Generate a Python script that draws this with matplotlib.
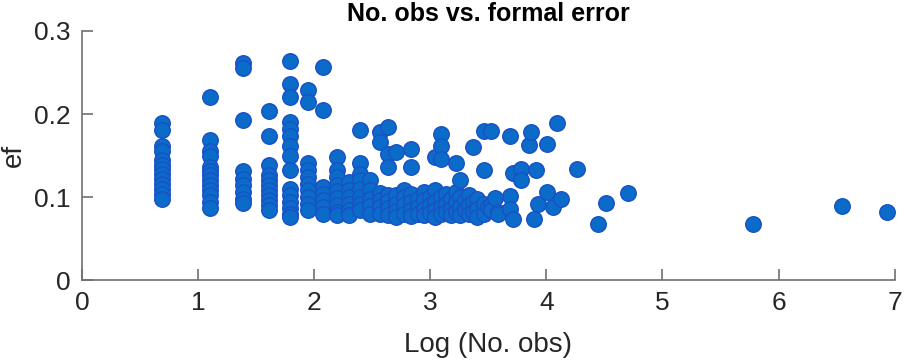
import numpy as np
import matplotlib
matplotlib.use("Agg")
import matplotlib.pyplot as plt

plt.rcParams['font.family'] = ['Liberation Sans', 'DejaVu Sans']

# number of observations per station/session and its formal error
n_obs = (
    [2] * 13 + [3] * 13 + [4] * 9 + [5] * 11 + [6] * 15 + [7] * 10 + [8] * 7
    + [9] * 9 + [10] * 6 + [11] * 8 + [12] * 5 + [13] * 6 + [14] * 7 + [15] * 5
    + [16] * 4 + [17] * 6 + [18] * 3 + [19] * 4 + [20] * 3 + [21] * 5 + [22] * 6
    + [23] * 3 + [24] * 3 + [25] * 4 + [26] * 4 + [27] * 2 + [28] * 3 + [29] * 3
    + [30] * 3 + [32] * 4 + [33] * 1 + [34] * 3 + [35] * 1 + [36] * 2 + [40] * 3
    + [41] * 2 + [44] * 2 + [47, 48, 49, 50, 51] + [55] * 2
    + [58, 60, 62, 71, 85, 91, 110, 323, 698, 1024]
)
ef = [
    0.189, 0.181, 0.162, 0.156, 0.145, 0.138, 0.134, 0.128, 0.122, 0.116, 0.110, 0.104, 0.098,
    0.220, 0.169, 0.156, 0.149, 0.136, 0.131, 0.126, 0.120, 0.114, 0.108, 0.102, 0.094, 0.087,
    0.262, 0.255, 0.193, 0.131, 0.122, 0.114, 0.106, 0.098, 0.093,
    0.204, 0.173, 0.138, 0.126, 0.120, 0.114, 0.108, 0.102, 0.096, 0.090, 0.084,
    0.264, 0.236, 0.221, 0.190, 0.182, 0.174, 0.162, 0.150, 0.132, 0.110, 0.102, 0.094, 0.087, 0.080, 0.076,
    0.229, 0.214, 0.141, 0.132, 0.124, 0.116, 0.108, 0.100, 0.092, 0.084,
    0.257, 0.205, 0.112, 0.104, 0.096, 0.088, 0.080,
    0.148, 0.133, 0.124, 0.115, 0.107, 0.099, 0.091, 0.082, 0.078,
    0.118, 0.108, 0.100, 0.092, 0.084, 0.078,
    0.181, 0.141, 0.128, 0.120, 0.110, 0.100, 0.092, 0.084,
    0.120, 0.108, 0.098, 0.089, 0.080,
    0.178, 0.166, 0.105, 0.097, 0.088, 0.080,
    0.184, 0.152, 0.136, 0.103, 0.095, 0.087, 0.078,
    0.154, 0.102, 0.092, 0.083, 0.076,
    0.108, 0.100, 0.090, 0.080,
    0.158, 0.136, 0.104, 0.094, 0.084, 0.077,
    0.098, 0.088, 0.080,
    0.106, 0.096, 0.086, 0.078,
    0.100, 0.090, 0.081,
    0.148, 0.108, 0.094, 0.084, 0.076,
    0.176, 0.162, 0.146, 0.100, 0.088, 0.080,
    0.104, 0.092, 0.082,
    0.098, 0.086, 0.078,
    0.141, 0.106, 0.094, 0.082,
    0.120, 0.100, 0.088, 0.078,
    0.096, 0.084,
    0.102, 0.090, 0.080,
    0.160, 0.094, 0.082,
    0.098, 0.086, 0.076,
    0.179, 0.133, 0.092, 0.080,
    0.088,
    0.090, 0.084, 0.179,
    0.099,
    0.082, 0.080,
    0.173, 0.101, 0.085,
    0.129, 0.074,
    0.134, 0.121,
    0.163, 0.178, 0.073, 0.133, 0.092,
    0.164, 0.106,
    0.088, 0.189, 0.098, 0.134, 0.067, 0.093, 0.105, 0.067, 0.089, 0.082,
]

x_ticks = [0, 1, 2, 3, 4, 5, 6, 7]
y_ticks = [0, 0.1, 0.2, 0.3]
y_tick_labels = ['0', '0.1', '0.2', '0.3']

fig = plt.figure(figsize=(9.05, 3.6), dpi=100)
ax = fig.add_axes([0.0906, 0.222, 0.898, 0.692])

ax.scatter(np.log(n_obs), ef, s=125, c='#0a6bc9', edgecolors='#1a50c6',
           linewidths=1.0, zorder=3, clip_on=False)

ax.set_xlim(0, 7)
ax.set_ylim(0, 0.3)
ax.set_xticks(x_ticks)
ax.set_xticklabels([str(t) for t in x_ticks])
ax.set_yticks(y_ticks)
ax.set_yticklabels(y_tick_labels)

for side in ['top', 'right']:
    ax.spines[side].set_visible(False)
for side in ['left', 'bottom']:
    ax.spines[side].set_color('#707070')
    ax.spines[side].set_linewidth(1.2)

ax.tick_params(direction='in', length=8, width=1.2, color='#707070',
               labelsize=19, labelcolor='#262626', pad=8)

ax.set_xlabel('Log (No. obs)', fontsize=20, color='#262626', labelpad=12)
ax.set_ylabel('ef', fontsize=20, color='#262626', labelpad=5)
ax.set_title('No. obs vs. formal error', fontsize=18, fontweight='bold',
             color='black', pad=7)

plt.savefig('out.png', dpi=100)
